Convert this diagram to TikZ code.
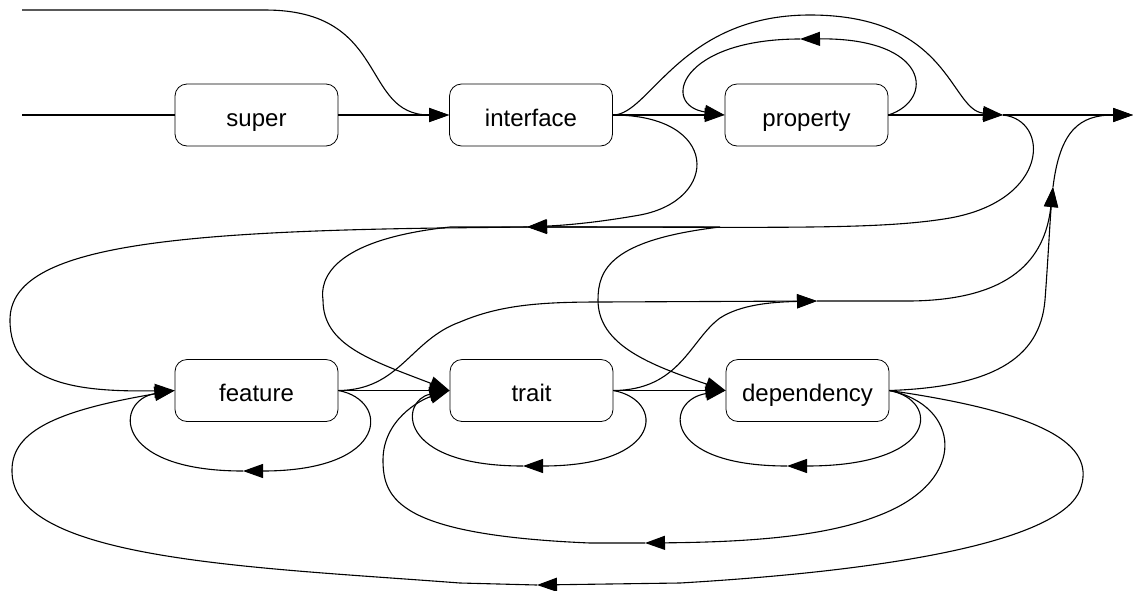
\documentclass[tikz,border=0pt]{standalone}
\usepackage{fontspec}
\setmainfont{Liberation Sans}
\usetikzlibrary{arrows.meta}
\begin{document}
\begin{tikzpicture}[x=0.5pt,y=-0.5pt,
  term/.style={draw, rounded corners=6pt, minimum width=81.5pt, minimum height=31pt,
    inner sep=0pt, text height=12.5pt, text depth=1.5pt,
    font=\fontsize{12pt}{14pt}\selectfont},
  wire/.style={draw, line width=0.55pt},
  arr/.style={wire, -{Triangle[length=10pt,width=7pt]}}]
\useasboundingbox (0,0) rectangle (1135,590);

% terminals
\node[term] (super)      at (256.5,115) {super};
\node[term] (interface)  at (531,115)   {interface};
\node[term] (property)   at (806.5,115) {property};
\node[term] (feature)    at (256.5,390.5) {feature};
\node[term] (trait)      at (531.5,390.5) {trait};
\node[term] (dependency) at (807.5,390.5) {dependency};

% junction points
\coordinate (s1) at (22,10);
\coordinate (s2) at (22,115);
\coordinate (J1) at (1003,115);
\coordinate (End) at (1133,115);
\coordinate (P) at (527,227);
\coordinate (P2) at (817,301);
\coordinate (P3) at (1053,187);
\coordinate (P4) at (537,585);
\coordinate (P5) at (645,543);
\coordinate (L1) at (800,39);
\coordinate (L2) at (243,471);
\coordinate (L3) at (523,466);
\coordinate (L4) at (787,466);

% entry lines
\draw[arr] (s1) -- (265,10) .. controls (390,10) and (360,115) .. (interface.west);
\draw[wire] (s2) -- (super.west);
\draw[arr] (super.east) -- (interface.west);

% top row
\draw[arr] (interface.east) -- (property.west);
\draw[arr] (interface.east) .. controls (650,115) and (680,15) .. (810,15)
  .. controls (950,15) and (950,110) .. (J1);
\draw[arr] (property.east) .. controls (935,100) and (930,38) .. (L1);
\draw[arr] (L1) .. controls (680,39) and (660,105) .. (property.west);
\draw[arr] (property.east) -- (J1);
\draw[arr] (J1) -- (End);

% back to the middle junction
\draw[arr] (J1) .. controls (1050,120) and (1050,200) .. (950,218)
  .. controls (880,230) and (780,227) .. (P);
\draw[arr] (interface.east) .. controls (720,115) and (720,200) .. (640,215)
  .. controls (600,222) and (570,225) .. (P);

% from the middle junction down to the bottom row
\draw[arr] (P) -- (440,228) .. controls (150,232) and (10,250) .. (10,320)
  .. controls (10,385) and (80,392) .. (feature.west);
\draw[arr] (P) -- (450,227) .. controls (330,240) and (320,280) .. (323,300)
  .. controls (323,345) and (370,360) .. (trait.west);
\draw[arr] (P) -- (720,227) .. controls (610,240) and (598,270) .. (598,300)
  .. controls (598,345) and (650,365) .. (dependency.west);

% bottom row
\draw[arr] (feature.east) -- (trait.west);
\draw[arr] (trait.east) -- (dependency.west);

% towards the exit
\draw[arr] (feature.east) .. controls (400,390) and (410,340) .. (460,322)
  .. controls (500,305) and (540,302) .. (600,302) -- (P2);
\draw[arr] (trait.east) .. controls (680,390) and (690,340) .. (720,318)
  .. controls (740,305) and (770,302) .. (P2);
\draw[arr] (P2) -- (910,301) .. controls (1010,300) and (1045,260) .. (P3);
\draw[arr] (dependency.east) .. controls (990,387) and (1040,360) .. (1045,300)
  .. controls (1048,260) and (1050,220) .. (P3);
\draw[arr] (P3) .. controls (1060,130) and (1080,115) .. (End);

% repetition loops
\draw[arr] (feature.east) .. controls (390,400) and (390,471) .. (L2);
\draw[arr] (L2) .. controls (110,471) and (115,400) .. (feature.west);
\draw[arr] (trait.east) .. controls (665,400) and (665,466) .. (L3);
\draw[arr] (L3) .. controls (395,466) and (400,400) .. (trait.west);
\draw[arr] (dependency.east) .. controls (940,400) and (940,466) .. (L4);
\draw[arr] (L4) .. controls (660,466) and (665,400) .. (dependency.west);

% long loops from dependency back to trait and feature
\draw[arr] (dependency.east) .. controls (960,405) and (970,480) .. (880,515)
  .. controls (830,535) and (760,542) .. (P5);
\draw[arr] (P5) -- (590,543) .. controls (400,535) and (383,500) .. (383,460)
  .. controls (383,420) and (420,400) .. (trait.west);
\draw[arr] (dependency.east) .. controls (1060,415) and (1095,450) .. (1080,490)
  .. controls (1060,540) and (900,570) .. (680,583) -- (P4);
\draw[arr] (P4) -- (460,583) .. controls (250,567) and (10,560) .. (12,470)
  .. controls (12,430) and (60,410) .. (feature.west);
\end{tikzpicture}
\end{document}
